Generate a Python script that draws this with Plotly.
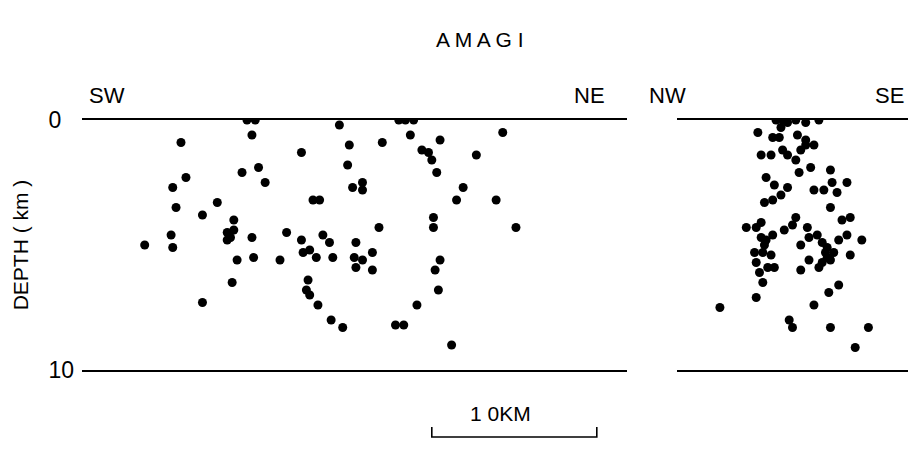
import plotly.graph_objects as go

# SW-NE section: distance along profile (km), depth (km)
sw_ne_dist = [10.0, 10.5, 10.3, 6.0, 15.6, 16.2, 13.3, 10.7, 9.7, 6.3,
              11.1, 16.1, 5.5, 16.4, 14.0, 14.4, 5.7, 8.2, 7.3, 9.2,
              5.4, 8.8, 9.2, 8.8, 9.0, 10.3, 12.4, 13.3, 14.6, 3.8,
              5.5, 15.0, 16.6, 13.4, 13.8, 14.2, 15.2, 16.5, 16.6, 9.4,
              10.4, 12.0, 13.7, 9.1, 13.6, 13.8, 14.3, 7.3, 15.1, 15.8,
              19.2, 19.6, 20.1, 19.9, 18.2, 21.7, 25.5, 20.6, 21.0, 21.2,
              21.5, 23.9, 17.0, 17.0, 23.1, 22.7, 25.1, 21.3, 21.3, 18.0,
              26.3, 17.6, 17.0, 17.6, 21.7, 21.4, 21.6, 20.3, 19.0, 19.5,
              22.4]
sw_ne_depth = [0.0, 0.0, 0.6, 0.9, 0.2, 1.0, 1.3, 1.9, 2.1, 2.3,
               2.5, 1.8, 2.7, 2.7, 3.2, 3.2, 3.5, 3.3, 3.8, 4.0,
               4.6, 4.5, 4.4, 4.8, 4.7, 4.7, 4.5, 4.8, 4.6, 5.0,
               5.1, 4.9, 4.9, 5.3, 5.2, 5.5, 5.5, 5.5, 5.9, 5.6,
               5.5, 5.6, 6.4, 6.5, 6.8, 7.0, 7.4, 7.3, 8.0, 8.3,
               0.0, 0.0, 0.0, 0.6, 0.9, 0.8, 0.5, 1.2, 1.3, 1.6,
               2.1, 1.4, 2.5, 2.8, 2.7, 3.2, 3.2, 3.9, 4.3, 4.3,
               4.3, 5.3, 5.6, 6.0, 5.6, 6.0, 6.8, 7.4, 8.2, 8.2,
               9.0]

# NW-SE section
nw_se_dist = [6.0, 6.4, 6.7, 7.2, 7.8, 8.6, 6.3, 4.9, 5.8, 6.2,
              7.3, 7.8, 7.8, 8.3, 7.5, 6.4, 6.7, 7.2, 5.1, 5.7,
              8.1, 7.4, 9.3, 5.4, 5.9, 6.7, 9.4, 10.3, 8.3, 8.9,
              9.7, 6.3, 5.8, 5.3, 9.3, 7.2, 10.5, 10.0, 5.1, 4.8,
              4.2, 7.0, 6.5, 7.9, 5.1, 5.4, 5.8, 5.3, 8.0, 8.5,
              8.8, 9.1, 9.8, 10.3, 11.2, 7.5, 4.7, 5.2, 5.7, 9.5,
              9.3, 9.0, 9.1, 10.5, 8.0, 8.8, 8.6, 4.8, 5.0, 5.5,
              5.9, 7.5, 5.2, 9.8, 9.2, 4.8, 2.6, 8.3, 6.8, 7.0,
              9.3, 11.6, 10.8]
nw_se_depth = [0.0, 0.0, 0.1, 0.0, 0.1, 0.0, 0.3, 0.5, 0.7, 0.7,
               0.6, 0.8, 1.0, 1.0, 1.2, 1.2, 1.4, 1.6, 1.4, 1.4,
               1.9, 2.1, 2.0, 2.3, 2.6, 2.7, 2.5, 2.5, 2.8, 2.8,
               2.9, 3.0, 3.2, 3.3, 3.5, 3.9, 3.9, 4.0, 4.1, 4.3,
               4.3, 4.2, 4.4, 4.3, 4.7, 4.8, 4.6, 5.0, 4.7, 4.6,
               4.9, 5.1, 4.8, 4.6, 4.8, 5.0, 5.3, 5.3, 5.4, 5.3,
               5.6, 5.3, 5.5, 5.4, 5.6, 5.7, 5.9, 5.7, 6.1, 5.9,
               5.9, 6.0, 6.5, 6.6, 6.9, 7.1, 7.5, 7.4, 8.0, 8.3,
               8.3, 8.3, 9.1]

depth_ticks = [0, 10]
depth_tick_labels = ["0\u2007", "10"]
scale_km = [21.2, 31.2]

# page has an 8px body margin; work in screen pixels
OFF = 8
W, H = 916, 474
L, R, T = 82 - OFF, 0, 120 - OFF
PH = 250
B = H - T - PH
PW = W - L - R

def px(xs):
    return (xs - OFF - L) / PW

def py(ys):
    return 1 - (ys - OFF - T) / PH

KM = 16.5  # px per km horizontally

fig = go.Figure()
mk = dict(color="black", size=9, line=dict(width=0))
fig.add_trace(go.Scatter(x=sw_ne_dist, y=sw_ne_depth, mode="markers",
                         marker=mk, xaxis="x", yaxis="y", showlegend=False))
fig.add_trace(go.Scatter(x=nw_se_dist, y=nw_se_depth, mode="markers",
                         marker=mk, xaxis="x2", yaxis="y2", showlegend=False))

axis_common = dict(showgrid=False, zeroline=False, showline=True, mirror=True,
                   linecolor="black", linewidth=1.6, showticklabels=False, ticks="")
fig.update_layout(
    width=W, height=H,
    margin=dict(l=L, r=R, t=T, b=B),
    paper_bgcolor="white", plot_bgcolor="white",
    font=dict(family="Liberation Sans, Arial, sans-serif", color="#000"),
    xaxis=dict(domain=[0, px(627)], range=[0, (627 - 82) / KM], **axis_common),
    xaxis2=dict(domain=[px(677), 1], range=[0, (W + OFF - 677) / KM], anchor="y2", **axis_common),
    yaxis=dict(range=[10, 0], showgrid=False, zeroline=False, showline=False,
               tickvals=depth_ticks, ticktext=depth_tick_labels,
               ticks="", ticklabelstandoff=7,
               tickfont=dict(size=23, color="#000"),
               title=dict(text="DEPTH ( km )", font=dict(size=21), standoff=14)),
    yaxis2=dict(range=[10, 0], anchor="x2", showgrid=False, zeroline=False,
                showline=False, showticklabels=False),
)

ann = [
    dict(text="A M A G I", x=px(480), y=py(40), size=21, xanchor="center"),
    dict(text="SW", x=px(87), y=py(96), size=22, xanchor="left"),
    dict(text="NE", x=px(607), y=py(96), size=22, xanchor="right"),
    dict(text="NW", x=px(647), y=py(96), size=22, xanchor="left"),
    dict(text="SE", x=px(906), y=py(96), size=22, xanchor="right"),
    dict(text="1 0KM", x=px(500), y=py(413), size=21, xanchor="center"),
]
for a in ann:
    fig.add_annotation(text=a["text"], x=a["x"], y=a["y"], xref="paper", yref="paper",
                       xanchor=a["xanchor"], yanchor="middle", showarrow=False,
                       font=dict(size=a["size"], color="#000"))

# scale bar (10 km on the SW-NE distance axis)
fig.add_shape(type="path", xref="x", yref="paper",
              path=f"M {scale_km[0]} {py(427)} L {scale_km[0]} {py(437)} "
                   f"L {scale_km[1]} {py(437)} L {scale_km[1]} {py(427)}",
              line=dict(color="black", width=1.6))

fig.write_html("out.html")
